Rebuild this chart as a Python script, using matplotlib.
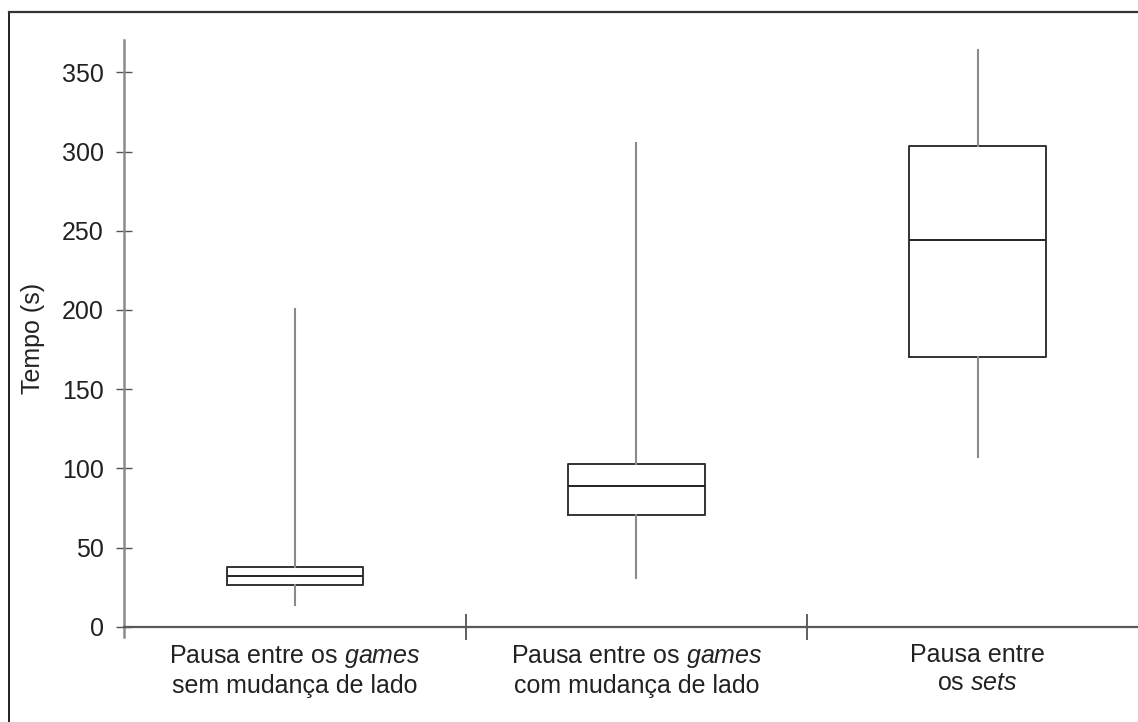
import matplotlib.pyplot as plt
from matplotlib.lines import Line2D

plt.rcParams['font.family'] = ['Liberation Sans', 'DejaVu Sans']
plt.rcParams['mathtext.fontset'] = 'custom'
plt.rcParams['mathtext.rm'] = 'Liberation Sans'
plt.rcParams['mathtext.it'] = 'Liberation Sans:italic'

categorias = [
    "Pausa entre os $\\mathit{games}$\nsem mudança de lado",
    "Pausa entre os $\\mathit{games}$\ncom mudança de lado",
    "Pausa entre\nos $\\mathit{sets}$",
]
# resumo de cada caixa: bigode inferior, Q1, mediana, Q3, bigode superior (s)
bigode_inf = [13.7, 30.7, 107]
q1 = [26.1, 70.5, 170.3]
mediana = [32.0, 88.8, 244.1]
q3 = [37.7, 102.7, 303.3]
bigode_sup = [200.6, 305.3, 364]
ticks_y = [0, 50, 100, 150, 200, 250, 300, 350]

stats = []
for i in range(len(categorias)):
    stats.append(dict(whislo=bigode_inf[i], q1=q1[i], med=mediana[i],
                      q3=q3[i], whishi=bigode_sup[i], fliers=[]))

fig = plt.figure(figsize=(11.38, 7.22), dpi=100)
ax = fig.add_axes([0.109, 0.1177, 0.891, 0.8269])

ax.bxp(stats, positions=range(len(categorias)), widths=0.40, showcaps=False,
       showfliers=False, patch_artist=False,
       boxprops=dict(color='#333333', linewidth=1.4),
       medianprops=dict(color='#222222', linewidth=1.4),
       whiskerprops=dict(color='#8a8a8a', linewidth=1.5))

ax.set_xlim(-0.5015, 2.47)
ax.set_ylim(-6.5, 370.4)

for s in ['top', 'right']:
    ax.spines[s].set_visible(False)
ax.spines['bottom'].set_position(('data', 0))
ax.spines['bottom'].set_color('#555a5e')
ax.spines['bottom'].set_linewidth(1.6)
ax.spines['left'].set_color('#8a8a8a')
ax.spines['left'].set_linewidth(1.8)

ax.set_yticks(ticks_y)
ax.tick_params(axis='y', direction='inout', length=11, width=1.0,
               color='#555555', labelsize=18, labelcolor='#222222', pad=9)

# separadores entre categorias como ticks maiores, rótulos nos menores
ax.set_xticks([0.5, 1.5])
ax.set_xticklabels([])
ax.tick_params(axis='x', which='major', direction='inout', length=19,
               width=1.1, color='#333333')
ax.set_xticks(range(len(categorias)), minor=True)
ax.set_xticklabels(categorias, minor=True)
ax.tick_params(axis='x', which='minor', length=0, labelsize=18,
               labelcolor='#222222', pad=12)

ax.set_ylabel("Tempo (s)", fontsize=18, color='#222222', labelpad=12)

# moldura da figura
fx = 8.5 / 1138
fy = 1 - 11.5 / 722
fig.add_artist(Line2D([fx, fx], [0, fy], transform=fig.transFigure,
                      color='#222222', linewidth=1.4))
fig.add_artist(Line2D([fx, 1], [fy, fy], transform=fig.transFigure,
                      color='#333333', linewidth=1.6))

fig.savefig("out.png", dpi=100)
